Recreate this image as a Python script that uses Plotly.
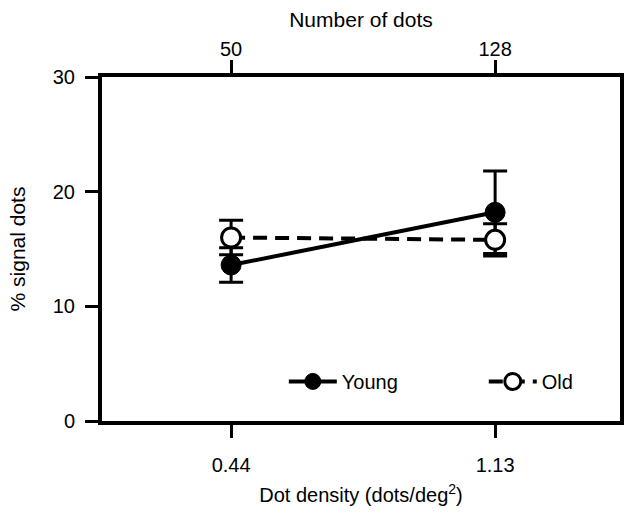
import plotly.graph_objects as go

# ---- data ----
density_labels = ["0.44", "1.13"]
dots_labels = ["50", "128"]
x_pos = [0, 1]
young_mean = [13.6, 18.2]
young_err = [1.5, 3.6]
old_mean = [16.0, 15.8]
old_err = [1.5, 1.4]
y_ticks = [0, 10, 20, 30]

FONT = "Liberation Sans, Arial, sans-serif"
BLACK = "black"

fig = go.Figure()

fig.add_trace(go.Scatter(
    x=x_pos, y=young_mean, name="Young", mode="lines+markers",
    line=dict(color=BLACK, width=4),
    marker=dict(symbol="circle", size=20, color=BLACK, line=dict(color=BLACK, width=1)),
    error_y=dict(type="data", array=young_err, visible=True, color=BLACK, thickness=3, width=12),
    legend="legend",
))
fig.add_trace(go.Scatter(
    x=x_pos, y=old_mean, name="Old", mode="lines+markers",
    line=dict(color=BLACK, width=4, dash="14px,8px"),
    marker=dict(symbol="circle", size=19, color="white", line=dict(color=BLACK, width=3)),
    error_y=dict(type="data", array=old_err, visible=True, color=BLACK, thickness=3, width=12),
    legend="legend2",
))

xr = [-0.489, 1.473]

fig.update_layout(
    width=631, height=515,
    margin=dict(l=102, r=11, t=77, b=94, autoexpand=False),
    paper_bgcolor="white", plot_bgcolor="white",
    font=dict(family=FONT, size=20, color=BLACK),
    xaxis=dict(
        range=xr, tickvals=x_pos, ticktext=density_labels, automargin=False,
        showgrid=False, zeroline=False, showline=True, linewidth=4, linecolor=BLACK,
        ticks="outside", ticklen=13, tickwidth=3, tickcolor=BLACK,
        tickfont=dict(size=20), ticklabelstandoff=10,
        title=dict(text="Dot density (dots/deg<sup>2</sup>)", font=dict(size=20), standoff=14),
    ),
    xaxis2=dict(
        range=xr, tickvals=x_pos, ticktext=dots_labels, overlaying="x", side="top", automargin=False,
        showgrid=False, zeroline=False, showline=True, linewidth=4, linecolor=BLACK,
        ticks="outside", ticklen=13, tickwidth=3, tickcolor=BLACK,
        tickfont=dict(size=20), ticklabelstandoff=-4,
        title=dict(text="Number of dots", font=dict(size=21), standoff=6),
    ),
    yaxis=dict(
        range=[0, 30], tickvals=y_ticks, automargin=False,
        showgrid=False, zeroline=False, showline=True, linewidth=4, linecolor=BLACK, mirror=True,
        ticks="outside", ticklen=13, tickwidth=3, tickcolor=BLACK,
        tickfont=dict(size=20), ticklabelstandoff=6,
        title=dict(text="% signal dots", font=dict(size=21), standoff=22),
    ),
    legend=dict(x=0.351, y=0.115, xanchor="left", yanchor="middle",
                bgcolor="rgba(0,0,0,0)", font=dict(size=20), itemwidth=48),
    legend2=dict(x=0.737, y=0.115, xanchor="left", yanchor="middle",
                 bgcolor="rgba(0,0,0,0)", font=dict(size=20), itemwidth=48),
    showlegend=True,
)

# invisible trace to anchor the top axis
fig.add_trace(go.Scatter(x=x_pos, y=[None, None], xaxis="x2", showlegend=False, hoverinfo="skip"))

fig.write_html("out.html", config={"displayModeBar": False},
               post_script="document.body.style.margin='0';")
